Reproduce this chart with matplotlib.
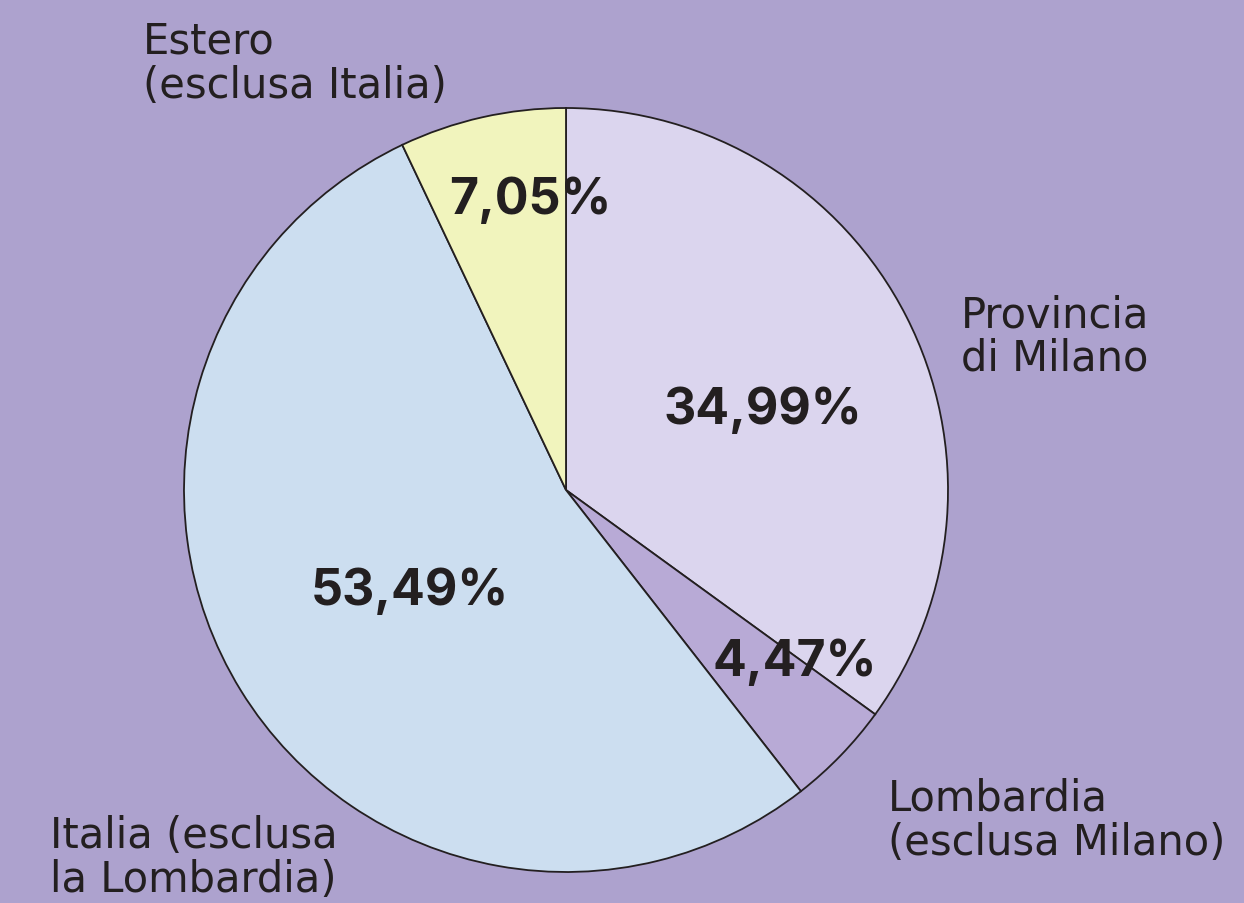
import matplotlib
matplotlib.use("Agg")
import matplotlib.pyplot as plt

# dati del grafico (percentuali, in senso orario partendo dall'alto)
categorie = ["Provincia\ndi Milano", "Lombardia\n(esclusa Milano)",
             "Italia (esclusa\nla Lombardia)", "Estero\n(esclusa Italia)"]
valori = [34.99, 4.47, 53.49, 7.05]
etichette_pct = ["34,99%", "4,47%", "53,49%", "7,05%"]
colori = ["#DBD5EE", "#B8AAD6", "#CCDEF0", "#F1F4BD"]

sfondo = "#ADA2CE"
testo = "#231F20"

W, H = 1244, 904
fig = plt.figure(figsize=(W / 100, H / 100), dpi=100, facecolor=sfondo)
ax = fig.add_axes([0, 0, 1, 1])
ax.set_facecolor(sfondo)

# torta disegnata in coordinate pixel (y dal basso)
cx, cy, r = 566, H - 491, 382
wedges, _ = ax.pie(valori, colors=colori, startangle=90, counterclock=False,
                   center=(cx, cy), radius=r,
                   wedgeprops=dict(edgecolor=testo, linewidth=1.3))

ax.set_xlim(0, W)
ax.set_ylim(0, H)
ax.set_aspect("equal")
ax.axis("off")

# percentuali in grassetto dentro le fette
pos_pct = [(763, 410), (795, 662), (410, 591), (530, 200)]
for (x, y), t in zip(pos_pct, etichette_pct):
    ax.text(x, H - y, t, ha="center", va="center", fontsize=36,
            fontweight="bold", color=testo, family="Inter")

# nomi delle categorie fuori dalla torta (angolo in alto a sinistra del testo)
pos_cat = [(961, 294), (888, 778), (50, 815), (143, 21)]
for (x, y), t in zip(pos_cat, categorie):
    ax.text(x, H - y, t, ha="left", va="top", fontsize=30,
            color=testo, family="DejaVu Sans", linespacing=1.05)

fig.savefig("out.png", dpi=100, facecolor=sfondo)
